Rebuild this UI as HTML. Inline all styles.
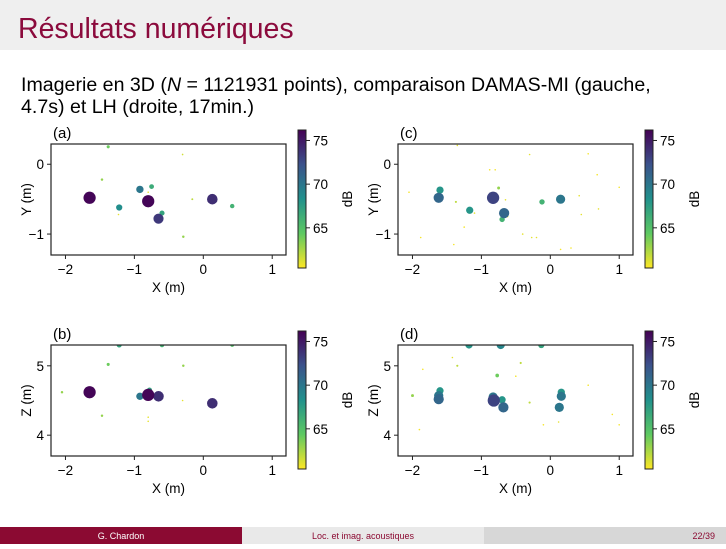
<!DOCTYPE html>
<html><head><meta charset="utf-8"><style>
body{margin:0;width:726px;height:544px;overflow:hidden;background:#fff;font-family:"Liberation Sans",sans-serif}
</style></head><body>
<svg id="s" width="726" height="544" xmlns="http://www.w3.org/2000/svg" font-family="Liberation Sans, sans-serif">
<rect x="0" y="0" width="726" height="50" fill="#efefef"/>
<text x="18" y="38" font-size="28.5" fill="#8b0a3c">Résultats numériques</text>
<text x="21" y="91" font-size="19.6" fill="#000">Imagerie en 3D (<tspan font-style="italic">N</tspan> = 1121931 points), comparaison DAMAS-MI (gauche,</text>
<text x="21" y="113" font-size="19.6" fill="#000">4.7s) et LH (droite, 17min.)</text>
<rect x="0" y="527" width="242" height="17" fill="#8b0a32"/>
<rect x="242" y="527" width="242" height="17" fill="#e9e9e9"/>
<rect x="484" y="527" width="242" height="17" fill="#d7d7d7"/>
<text x="121" y="539" font-size="9" fill="#fff" text-anchor="middle">G. Chardon</text>
<text x="363" y="539" font-size="9" fill="#8b0a32" text-anchor="middle">Loc. et imag. acoustiques</text>
<text x="715" y="539" font-size="9" fill="#8b0a32" text-anchor="end">22/39</text>
<defs><linearGradient id="vir" x1="0" y1="0" x2="0" y2="1">
<stop offset="0" stop-color="#440154"/><stop offset="0.25" stop-color="#3b528b"/><stop offset="0.5" stop-color="#21918c"/><stop offset="0.75" stop-color="#5ec962"/><stop offset="1" stop-color="#fde725"/></linearGradient></defs>
</svg>
<script>
// Panel (a): DAMAS-MI, X-Y
const aX=[-1.65,-0.8,0.13,-0.65,-0.92,-1.22,-0.6,-0.75,0.42,-1.38,-0.3,-1.47,-0.16,-0.29,-0.8,-1.23];
const aY=[-0.48,-0.53,-0.5,-0.78,-0.36,-0.62,-0.7,-0.32,-0.6,0.25,0.14,-0.22,-0.5,-1.04,-0.4,-0.72];
const aDB=[76,76,74,73.5,70,68.5,67,66.5,66,64,61.5,63,62,63,61,61];
// Panel (b): DAMAS-MI, X-Z
const bX=[-1.65,-0.8,-0.65,0.13,-0.92,-0.78,-2.05,-1.38,-0.29,-1.47,-0.8,-0.8,-0.3,-1.22,-0.6,0.42];
const bZ=[4.62,4.58,4.56,4.46,4.56,4.65,4.62,5.02,5.0,4.28,4.2,4.26,4.5,5.3,5.3,5.3];
const bDB=[76,76,74,74,70,67,63,64,63,63,61,61,61,67,66,65];
// Panel (c): LH, X-Y
const cX=[-1.62,-1.6,-0.83,-0.67,0.15,-1.6,-0.7,-1.17,-0.12,0.15,-0.75,-0.65,-0.62,-1.37,0.42,0.45,0.7,-0.3,-1.35,-0.4,-0.27,-0.2,0.3,0.15,-1.1,-0.8,-0.88,-2.05,-1.88,1.0,0.55,-1.25,0.68,-1.4];
const cY=[-0.48,-0.37,-0.48,-0.7,-0.5,-0.49,-0.79,-0.66,-0.54,-0.5,-0.34,-0.51,-0.75,-0.54,-0.45,-0.72,-0.64,0.14,0.27,-1.0,-1.05,-1.05,-1.2,-1.22,-0.7,-0.08,-0.08,-0.4,-1.05,-0.33,0.15,-0.9,-0.15,-1.15];
const cDB=[71,68,73,71,70,66,66,68,66,65,63,61,61,62,61,61,61,61,61,61,61,61,60.6,60.6,61,60.6,60.6,60.6,60.6,60.6,60.6,60.6,60.6,60.6];
// Panel (d): LH, X-Z
const dX=[-1.62,-1.62,-1.6,-1.6,-0.82,-0.83,-0.68,-0.7,0.13,0.16,0.16,0.16,-2.0,-0.77,-1.35,-0.43,-0.3,0.12,-1.18,-0.72,-0.13,-1.42,-0.5,0.55,0.9,1.0,-1.85,-1.9,-0.1];
const dZ=[4.52,4.57,4.64,4.5,4.5,4.55,4.4,4.51,4.4,4.56,4.62,4.58,4.57,4.86,5.0,5.04,4.47,4.19,5.3,5.3,5.3,5.12,4.85,4.72,4.3,4.15,4.95,4.08,4.15];
const dDB=[71,70,68,66,73,70,71,68,70,70,68,65,63,64,62,62,62,61,68,69,67,61,60.6,60.6,60.6,60.6,60.6,60.6,60.6];
const cbTicks=[75,70,65];
const xTicks=[-2,-1,0,1];
const yTicksXY=[0,-1];
const yTicksXZ=[5,4];

const NS="http://www.w3.org/2000/svg";
const svg=document.getElementById('s');
const VMAX=76.2,VMIN=60.4;
const vstops=[[68,1,84],[59,82,139],[33,145,140],[94,201,98],[253,231,37]];
function viridisR(db){let t=(VMAX-db)/(VMAX-VMIN);t=Math.max(0,Math.min(1,t));const f=t*4,i=Math.min(3,Math.floor(f)),u=f-i;const a=vstops[i],b=vstops[i+1];return 'rgb('+a.map((v,k)=>Math.round(v+(b[k]-v)*u)).join(',')+')';}
function radius(db,k){return Math.max(0.8,0.6+Math.pow(Math.max(0,db-60.4)/15.8,1.2)*5.6*k);}
function el(tag,attrs,parent){const e=document.createElementNS(NS,tag);for(const k in attrs)e.setAttribute(k,attrs[k]);(parent||svg).appendChild(e);return e;}

function panel(label,bx,by,xs,ys,dbs,yTicks,yRange,yLabel,cbx,cby,k){
  const W=235,H=111;
  const sx=v=>bx+(v-(-2.21))/(1.2-(-2.21))*W;
  const sy=v=>by+(yRange[1]-v)/(yRange[1]-yRange[0])*H;
  const g=el('g',{});
  
  
  const t=el('text',{x:bx+2,y:by-6,'font-size':15,fill:'#000'},g);t.textContent='('+label+')';
  
  
  el('clipPath',{id:'cl'+label},g).appendChild(el('rect',{x:bx,y:by,width:W,height:H},g));
  const pts=el('g',{'clip-path':'url(#cl'+label+')'},g);
  const idx=dbs.map((d,i)=>i).sort((p,q)=>dbs[p]-dbs[q]);
  for(const i of idx){
    const c=el('circle',{cx:sx(xs[i]).toFixed(1),cy:sy(ys[i]).toFixed(1),r:radius(dbs[i],k).toFixed(2),fill:viridisR(dbs[i])},pts);
    
    
  }
  const fr=el('rect',{x:bx,y:by,width:W,height:H,fill:'none',stroke:'#222','stroke-width':1.2},g);
  
  
  for(const v of xTicks){const x=sx(v);el('line',{x1:x,x2:x,y1:by+H,y2:by+H+4,stroke:'#222'},g);
    const tx=el('text',{x:x,y:by+H+19,'font-size':13.5,'text-anchor':'middle'},g);tx.textContent=v<0?'\u2212'+(-v):''+v;
    
    }
  for(const v of yTicks){const y=sy(v);el('line',{x1:bx-4,x2:bx,y1:y,y2:y,stroke:'#222'},g);
    const ty=el('text',{x:bx-7,y:y+5,'font-size':13.5,'text-anchor':'end'},g);ty.textContent=v<0?'\u2212'+(-v):''+v;
    
    }
  const xl=el('text',{x:bx+W/2,y:by+H+37,'font-size':13.5,'text-anchor':'middle'},g);xl.textContent='X (m)';
  
  
  const yl=el('text',{x:0,y:0,'font-size':13.5,'text-anchor':'middle',transform:'translate('+(bx-20)+','+(by+H/2)+') rotate(-90)'},g);yl.textContent=yLabel;
  
  
  const CH=138,cs=v=>cby+(VMAX-v)/(VMAX-VMIN)*CH;
  const cb=el('rect',{x:cbx,y:cby,width:8,height:CH,fill:'url(#vir)',stroke:'#222','stroke-width':1},g);
  
  
  for(const v of cbTicks){const y=cs(v);el('line',{x1:cbx+8,x2:cbx+12,y1:y,y2:y,stroke:'#222'},g);
    const ct=el('text',{x:cbx+15,y:y+5,'font-size':13.5},g);ct.textContent=v;
    
    }
  const cl=el('text',{x:0,y:0,'font-size':13.5,'text-anchor':'middle',transform:'translate('+(cbx+54)+','+(cby+CH/2)+') rotate(-90)'},g);cl.textContent='dB';
  
  
}
panel('a',51,144,aX,aY,aDB,yTicksXY,[-1.3,0.29],'Y (m)',298,130,1);
panel('c',398,144,cX,cY,cDB,yTicksXY,[-1.3,0.29],'Y (m)',645,130,1.3);
panel('b',51,345,bX,bZ,bDB,yTicksXZ,[3.7,5.3],'Z (m)',298,331,1);
panel('d',398,345,dX,dZ,dDB,yTicksXZ,[3.7,5.3],'Z (m)',645,331,1.3);
</script>
</body></html>
